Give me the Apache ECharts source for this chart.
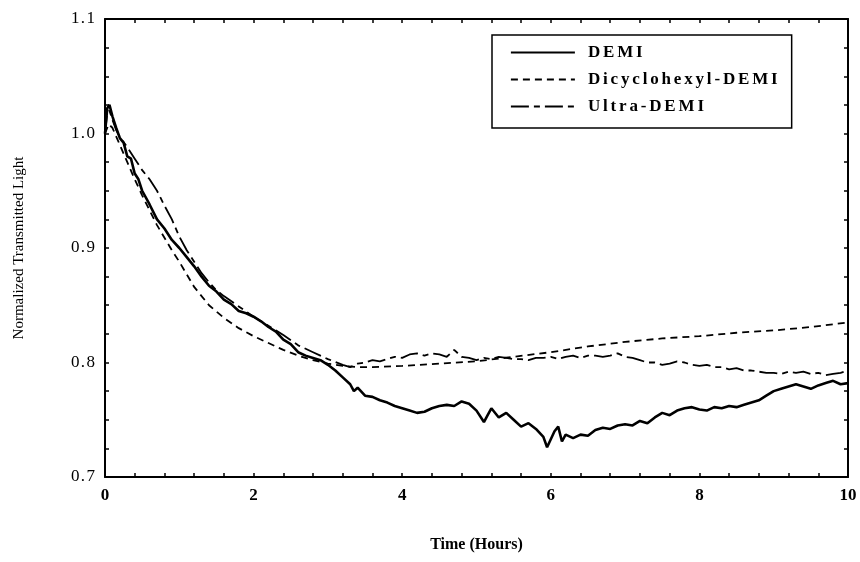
<!DOCTYPE html>
<html>
<head>
<meta charset="utf-8">
<script src="https://cdn.jsdelivr.net/npm/echarts@6/dist/echarts.min.js"></script>
<style>
html,body{margin:0;padding:0;background:#fff;}
#chart{width:860px;height:562px;}
</style>
</head>
<body>
<div id="chart"></div>
<script>
// ---- data ----
const seriesNames = ['DEMI', 'Dicyclohexyl-DEMI', 'Ultra-DEMI'];
const xTicks = [0, 2, 4, 6, 8, 10];
const yTicks = [0.7, 0.8, 0.9, 1.0, 1.1];

const demiT = [0,0.03,0.06,0.1,0.15,0.2,0.25,0.3,0.35,0.4,0.45,0.5,0.6,0.7,0.8,0.9,1.0,1.1,1.2,1.3,1.4,1.5,1.6,1.7,1.8,1.9,2.0,2.1,2.2,2.3,2.4,2.5,2.6,2.7,2.8,2.9,3.0,3.1,3.2,3.3,3.35,3.4,3.5,3.6,3.7,3.8,3.9,4.0,4.1,4.2,4.3,4.4,4.5,4.6,4.7,4.8,4.9,5.0,5.1,5.15,5.2,5.3,5.4,5.5,5.6,5.7,5.8,5.9,5.95,6.0,6.05,6.1,6.15,6.2,6.3,6.4,6.5,6.6,6.7,6.8,6.9,7.0,7.1,7.2,7.3,7.4,7.5,7.6,7.7,7.8,7.9,8.0,8.1,8.2,8.3,8.4,8.5,8.6,8.7,8.8,8.9,9.0,9.1,9.2,9.3,9.4,9.5,9.6,9.7,9.8,9.9,10.0];
const demiV = [1.000,1.022,1.025,1.015,1.005,0.996,0.992,0.980,0.978,0.965,0.960,0.950,0.938,0.925,0.917,0.907,0.900,0.892,0.884,0.875,0.867,0.862,0.855,0.851,0.845,0.843,0.840,0.836,0.831,0.827,0.820,0.816,0.809,0.806,0.804,0.802,0.798,0.793,0.787,0.781,0.775,0.778,0.771,0.770,0.767,0.765,0.762,0.760,0.758,0.756,0.757,0.760,0.762,0.763,0.762,0.766,0.764,0.758,0.748,0.754,0.760,0.752,0.756,0.750,0.744,0.747,0.742,0.735,0.726,0.733,0.740,0.744,0.731,0.737,0.734,0.737,0.736,0.741,0.743,0.742,0.745,0.746,0.745,0.749,0.747,0.752,0.756,0.754,0.758,0.760,0.761,0.759,0.758,0.761,0.760,0.762,0.761,0.763,0.765,0.767,0.771,0.775,0.777,0.779,0.781,0.779,0.777,0.780,0.782,0.784,0.781,0.782];

const dicyT = [0,0.05,0.1,0.2,0.3,0.4,0.5,0.6,0.7,0.8,0.9,1.0,1.2,1.4,1.6,1.8,2.0,2.2,2.4,2.6,2.8,3.0,3.2,3.4,3.6,4.0,4.5,5.0,5.5,6.0,6.5,7.0,7.5,8.0,8.5,9.0,9.5,10.0];
const dicyV = [1.000,1.008,1.005,0.990,0.975,0.960,0.946,0.933,0.920,0.909,0.898,0.888,0.866,0.850,0.839,0.830,0.823,0.817,0.811,0.806,0.802,0.799,0.797,0.796,0.796,0.797,0.799,0.801,0.805,0.809,0.814,0.818,0.821,0.823,0.826,0.828,0.831,0.835];

const ultraT = [0,0.03,0.06,0.1,0.15,0.2,0.3,0.4,0.5,0.6,0.7,0.8,0.9,1.0,1.1,1.2,1.3,1.4,1.5,1.6,1.8,2.0,2.2,2.4,2.6,2.8,3.0,3.2,3.3,3.4,3.5,3.6,3.7,3.8,3.9,4.0,4.1,4.2,4.3,4.4,4.5,4.6,4.7,4.8,4.9,5.0,5.1,5.2,5.3,5.4,5.5,5.6,5.7,5.8,5.9,6.0,6.1,6.2,6.3,6.4,6.5,6.6,6.7,6.8,6.9,7.0,7.1,7.2,7.3,7.4,7.5,7.6,7.7,7.8,7.9,8.0,8.1,8.2,8.3,8.4,8.5,8.6,8.7,8.8,8.9,9.0,9.1,9.2,9.3,9.4,9.5,9.6,9.7,9.8,9.9,10.0];
const ultraV = [1.000,1.018,1.020,1.012,1.003,0.997,0.988,0.978,0.968,0.960,0.950,0.937,0.925,0.910,0.898,0.888,0.878,0.870,0.863,0.858,0.849,0.840,0.832,0.824,0.815,0.809,0.803,0.798,0.796,0.799,0.800,0.802,0.801,0.803,0.805,0.804,0.807,0.808,0.806,0.808,0.807,0.805,0.811,0.805,0.804,0.802,0.804,0.803,0.805,0.804,0.803,0.803,0.802,0.804,0.804,0.805,0.803,0.805,0.806,0.804,0.806,0.806,0.805,0.806,0.808,0.805,0.804,0.802,0.800,0.800,0.798,0.799,0.801,0.800,0.798,0.797,0.798,0.796,0.796,0.794,0.795,0.793,0.793,0.792,0.791,0.791,0.790,0.792,0.791,0.792,0.790,0.791,0.789,0.790,0.791,0.793];

function pairs(t, v) { return t.map((x, i) => [x, v[i]]); }

const serif = '"Liberation Serif", "DejaVu Serif", serif';
const chart = echarts.init(document.getElementById('chart'), null, {renderer: 'canvas'});

const baseAxisLine = {show: true, onZero: false, lineStyle: {color: '#000', width: 2}};
const tickStyle = {show: true, inside: true, length: 4, lineStyle: {color: '#000', width: 1.5}};
function minor(n) { return {show: true, splitNumber: n, length: 4, lineStyle: {color: '#000', width: 1.5}}; }
// letter-spaced legend text, as in the reference
const spaced = s => s.split('').join('\u2006');

chart.setOption({
  animation: false,
  backgroundColor: '#fff',
  grid: {left: 105, right: 12, top: 19, bottom: 85},
  legend: {
    show: true,
    orient: 'vertical',
    left: 492, top: 35,
    padding: [9, 14, 13, 18],
    itemWidth: 64, itemHeight: 14, itemGap: 10,
    borderColor: '#000', borderWidth: 1.5,
    itemStyle: {opacity: 0},
    lineStyle: {width: 1.8},
    formatter: spaced,
    textStyle: {fontFamily: serif, fontSize: 17, fontWeight: 'bold', color: '#000', padding: [0, 0, 0, 8]},
    data: seriesNames
  },
  xAxis: [{
    type: 'value', min: xTicks[0], max: xTicks[xTicks.length - 1], interval: 2,
    position: 'bottom',
    name: 'Time (Hours)', nameLocation: 'middle', nameGap: 60,
    nameTextStyle: {fontFamily: serif, fontSize: 16, fontWeight: 'bold', color: '#000'},
    axisLine: baseAxisLine,
    axisTick: tickStyle,
    minorTick: minor(5),
    splitLine: {show: false},
    axisLabel: {fontFamily: serif, fontSize: 17, fontWeight: 'bold', color: '#000', margin: 10}
  }, {
    type: 'value', min: xTicks[0], max: xTicks[xTicks.length - 1], interval: 2,
    position: 'top',
    axisLine: baseAxisLine,
    axisTick: tickStyle,
    minorTick: minor(5),
    splitLine: {show: false},
    axisLabel: {show: false}
  }],
  yAxis: [{
    type: 'value', min: yTicks[0], max: yTicks[yTicks.length - 1], interval: 0.1,
    position: 'left',
    name: 'Normalized Transmitted Light', nameLocation: 'middle', nameGap: 78,
    nameTextStyle: {fontFamily: serif, fontSize: 15, color: '#000'},
    axisLine: baseAxisLine,
    axisTick: tickStyle,
    minorTick: minor(4),
    splitLine: {show: false},
    axisLabel: {fontFamily: serif, fontSize: 17, color: '#000', margin: 10,
      formatter: v => v.toFixed(1).split('').join('\u200A')}
  }, {
    type: 'value', min: yTicks[0], max: yTicks[yTicks.length - 1], interval: 0.1,
    position: 'right',
    axisLine: baseAxisLine,
    axisTick: tickStyle,
    minorTick: minor(4),
    splitLine: {show: false},
    axisLabel: {show: false}
  }],
  series: [{
    name: seriesNames[0], type: 'line', symbol: 'none',
    data: pairs(demiT, demiV),
    lineStyle: {color: '#000', width: 2.6, type: 'solid'},
    itemStyle: {color: '#000'}, z: 3
  }, {
    name: seriesNames[1], type: 'line', symbol: 'none',
    data: pairs(dicyT, dicyV),
    lineStyle: {color: '#000', width: 1.8, type: [7, 5]},
    itemStyle: {color: '#000'}, z: 2
  }, {
    name: seriesNames[2], type: 'line', symbol: 'none',
    data: pairs(ultraT, ultraV),
    lineStyle: {color: '#000', width: 1.8, type: [18, 5, 6, 5]},
    itemStyle: {color: '#000'}, z: 2
  }]
});
</script>
</body>
</html>
